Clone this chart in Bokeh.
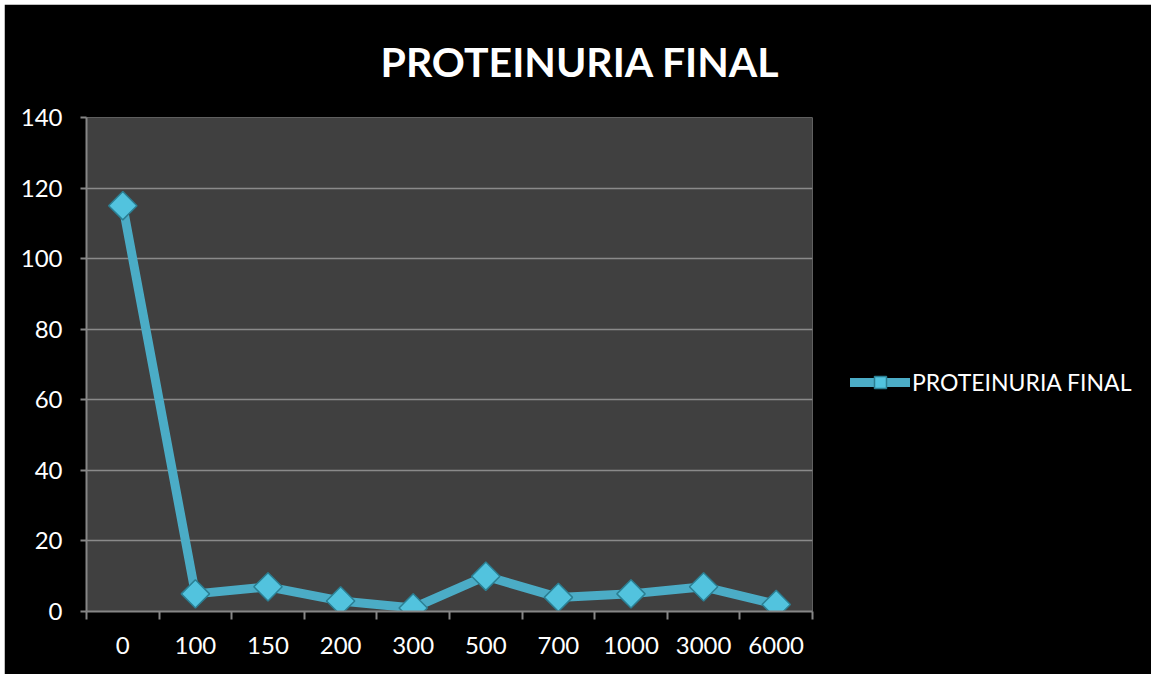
import math
from bokeh.plotting import figure
from bokeh.models import (FixedTicker, Range1d, ColumnDataSource, Legend, LegendItem)
from bokeh.embed import file_html
from bokeh.resources import INLINE

# Dose categories and final proteinuria values
categories = ["0", "100", "150", "200", "300", "500", "700", "1000", "3000", "6000"]
proteinuria = [115, 5, 7, 3, 1, 10, 4, 5, 7, 2]
y_ticks = [0, 20, 40, 60, 80, 100, 120, 140]
series_name = "PROTEINURIA FINAL"

FONT = "Lato"
LINE = "#4bacc6"
AXIS = "#868686"

# each category occupies a unit slot; points sit at slot centres
xs = [i + 0.5 for i in range(len(categories))]
src = ColumnDataSource(dict(x=xs, y=proteinuria))

p = figure(frame_width=726, frame_height=494, output_backend="svg",
           toolbar_location=None,
           x_range=Range1d(0, len(categories)), y_range=Range1d(0, 140),
           min_border_left=82, min_border_right=0, min_border_top=113,
           min_border_bottom=63)
p.margin = (4, 0, 0, 4)

p.background_fill_color = "#404040"
p.border_fill_color = "black"
p.outline_line_color = None

p.title.text = series_name
p.title.text_color = "white"
p.title.text_font = FONT
p.title.text_font_style = "bold"
p.title.text_font_size = "41px"
p.title.align = "left"
p.title.vertical_align = "top"
p.title.offset = 294
p.title.standoff = 60

# y axis
p.yaxis.ticker = FixedTicker(ticks=y_ticks, minor_ticks=[])
p.yaxis.axis_line_color = AXIS
p.yaxis.axis_line_width = 2
p.yaxis.major_tick_line_color = AXIS
p.yaxis.major_tick_line_width = 2
p.yaxis.major_tick_out = 6
p.yaxis.major_tick_in = 0
p.yaxis.minor_tick_line_color = None
p.yaxis.major_label_text_color = "white"
p.yaxis.major_label_text_font = FONT
p.yaxis.major_label_text_font_size = "24px"
p.yaxis.major_label_standoff = 18

# x axis: labels at slot centres, ticks at slot boundaries
p.xaxis.ticker = FixedTicker(ticks=xs, minor_ticks=list(range(len(categories) + 1)))
p.xaxis.major_label_overrides = {x: c for x, c in zip(xs, categories)}
p.xaxis.axis_line_color = AXIS
p.xaxis.axis_line_width = 2
p.xaxis.major_tick_line_color = None
p.xaxis.minor_tick_line_color = AXIS
p.xaxis.minor_tick_line_width = 2
p.xaxis.minor_tick_out = 8
p.xaxis.minor_tick_in = 0
p.xaxis.major_label_text_color = "white"
p.xaxis.major_label_text_font = FONT
p.xaxis.major_label_text_font_size = "24px"
p.xaxis.major_label_standoff = 17

p.xgrid.grid_line_color = None
p.ygrid.ticker = FixedTicker(ticks=y_ticks)
p.ygrid.grid_line_color = "#8a8a8a"
p.ygrid.grid_line_width = 1.5

ln = p.line("x", "y", source=src, line_color=LINE, line_width=9,
            line_join="round", line_cap="round")
mk = p.scatter("x", "y", source=src, marker="square", size=20, angle=math.pi / 4,
               fill_color="#52c3de", line_color="#2b7f93", line_width=1.5)

legend = Legend(items=[LegendItem(label=series_name, renderers=[ln, mk])],
                location=(38, 214), orientation="vertical",
                background_fill_alpha=0, border_line_color=None,
                label_text_color="white", label_text_font=FONT,
                label_text_font_size="23px", glyph_width=60, glyph_height=30,
                label_standoff=2, padding=0, margin=0)
p.add_layout(legend, "right")

open("out.html", "w").write(file_html(p, INLINE))
